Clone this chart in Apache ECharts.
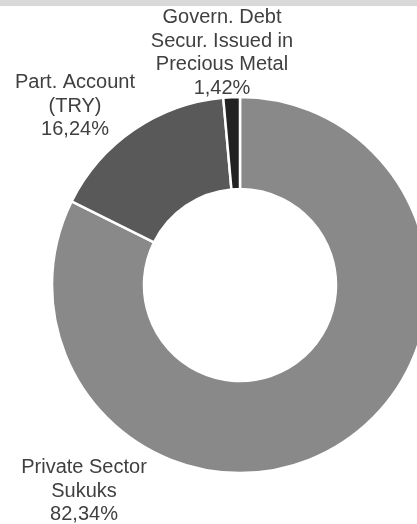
<!DOCTYPE html>
<html>
<head>
<meta charset="utf-8">
<script src="https://cdn.jsdelivr.net/npm/echarts@6/dist/echarts.min.js"></script>
<style>
html,body{margin:0;padding:0;background:#fff;}
#c{width:417px;height:524px;}
</style>
</head>
<body>
<div id="c"></div>
<script>
const categories = ['Private Sector\nSukuks', 'Part. Account\n(TRY)', 'Govern. Debt\nSecur. Issued in\nPrecious Metal'];
const values = [82.34, 16.24, 1.42];
const valueLabels = ['82,34%', '16,24%', '1,42%'];
const colors = ['#898989', '#595959', '#222222'];
const labelPos = [[84, 491], [75, 106], [222, 53]];

const chart = echarts.init(document.getElementById('c'), null, {renderer: 'canvas'});
chart.setOption({
  animation: false,
  graphic: [{type: 'rect', shape: {x: 0, y: 0, width: 417, height: 6}, style: {fill: '#d9d9d9'}, z: 10}],
  series: [{
    type: 'pie',
    center: [240, 285],
    radius: [96, 188],
    startAngle: 90,
    clockwise: true,
    avoidLabelOverlap: false,
    data: categories.map((c, i) => ({name: c, value: values[i], itemStyle: {color: colors[i]}})),
    itemStyle: {borderColor: '#fff', borderWidth: 2.5},
    label: {
      show: true,
      position: 'outside',
      overflow: 'none',
      formatter: p => p.name + '\n' + valueLabels[p.dataIndex],
      color: '#404040',
      fontFamily: 'Liberation Sans, Arial, sans-serif',
      fontSize: 20,
      lineHeight: 23.5,
      align: 'center'
    },
    labelLine: {show: false},
    labelLayout: p => ({x: labelPos[p.dataIndex][0], y: labelPos[p.dataIndex][1], align: 'center', verticalAlign: 'middle', width: 200}),
    emphasis: {disabled: true}
  }]
});
</script>
</body>
</html>
